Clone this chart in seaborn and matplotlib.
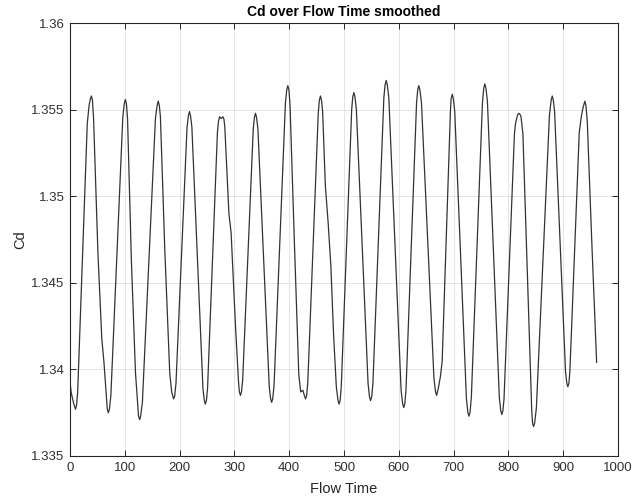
import matplotlib
matplotlib.use("Agg")
import matplotlib.pyplot as plt
from matplotlib.ticker import FuncFormatter
import seaborn as sns
import pandas as pd

# Flow time samples
flow_time = [
    0, 2, 4, 7, 10, 12,
    14, 22.75, 31.5, 35, 37, 39, 41,
    43, 51, 58, 62, 66.5, 68, 70, 72,
    74.6, 85.5, 96.4, 99, 101, 103,
    105, 112, 119.5, 123.5, 125, 127, 129,
    132.1, 144, 155.9, 159, 161, 163,
    165, 173, 182, 185.5, 189, 191,
    193.4, 203.5, 213.6, 216, 218, 220,
    222.4, 232.5, 242.6, 245, 247, 249,
    251, 260, 269, 271, 273, 276, 279, 281,
    282.5, 290, 294, 302, 307.5, 309, 311, 313,
    315.1, 324.75, 334.4, 336.5, 338.5, 340.5,
    342.9, 353.25, 363.6, 366, 368, 370,
    372.4, 382.75, 393.1, 395.5, 397.5, 399.5,
    401.5, 409.25, 417.5, 421, 425, 428, 430, 432,
    434, 443.5, 453, 455, 457, 459,
    461, 466, 471, 476, 481, 486, 489, 491, 493,
    495, 504.5, 514, 516, 518, 520,
    522.6, 533.25, 543.9, 546.5, 548.5, 550.5,
    552.8, 562.75, 572.7, 575, 577, 579,
    581.8, 593, 604.2, 607, 609, 611,
    613.1, 622.75, 632.4, 634.5, 636.5, 638.5,
    641.4, 652.75, 664.1, 667, 669,
    672, 676, 679.2, 686.75, 694.3, 695.5, 697.5, 699.5,
    702.1, 712.75, 723.4, 726, 728, 730,
    732.4, 742.5, 752.6, 755, 757, 759,
    761.7, 772.5, 783.4, 786, 788, 790,
    792, 801.5, 811, 813, 815, 817, 819, 821, 823,
    826.5, 834.5, 842.5, 844, 846, 848,
    851.1, 863, 874.9, 878, 880, 882,
    884.3, 894.25, 904.2, 906.5, 908.5, 910.5,
    912.2, 920.75, 929.3, 933, 936, 939.5, 941.5,
    944, 952, 961,
]

# Smoothed drag coefficient at those times
cd_smoothed = [
    1.3393, 1.3387, 1.3384, 1.3380, 1.3377, 1.33795,
    1.3387, 1.34645, 1.3542, 1.3553, 1.35560, 1.3558, 1.35555,
    1.3545, 1.3467, 1.3418, 1.3404, 1.3384, 1.33772, 1.3375, 1.33772,
    1.3385, 1.34655, 1.3546, 1.35535, 1.3556, 1.35535,
    1.3545, 1.3463, 1.3398, 1.3380, 1.33732, 1.3371, 1.33732,
    1.3381, 1.3463, 1.3545, 1.35525, 1.3555, 1.35525,
    1.3546, 1.3469, 1.3398, 1.3387, 1.3383, 1.33845,
    1.3392, 1.3466, 1.3540, 1.35465, 1.3549, 1.35465,
    1.3540, 1.34645, 1.3389, 1.33822, 1.3380, 1.33822,
    1.3389, 1.3463, 1.3537, 1.35435, 1.3546, 1.3545, 1.3546, 1.35445,
    1.3540, 1.3490, 1.3479, 1.3425, 1.3393, 1.33872, 1.3385, 1.33872,
    1.3394, 1.34665, 1.3539, 1.35455, 1.3548, 1.35455,
    1.3539, 1.34645, 1.3390, 1.33832, 1.3381, 1.33832,
    1.3391, 1.34725, 1.3554, 1.35615, 1.3564, 1.35615,
    1.3553, 1.34755, 1.3397, 1.3387, 1.3388, 1.33845, 1.3383, 1.33852,
    1.3393, 1.34705, 1.3548, 1.35555, 1.3558, 1.35555,
    1.3549, 1.3506, 1.3485, 1.3460, 1.3420, 1.3390, 1.33822, 1.3380, 1.33822,
    1.3390, 1.3470, 1.3550, 1.35575, 1.3560, 1.35575,
    1.3550, 1.3471, 1.3392, 1.33842, 1.3382, 1.33842,
    1.3392, 1.34745, 1.3557, 1.35645, 1.3567, 1.35645,
    1.3557, 1.34725, 1.3388, 1.33802, 1.3378, 1.33802,
    1.3388, 1.3471, 1.3554, 1.35615, 1.3564, 1.35615,
    1.3554, 1.34745, 1.3395, 1.33872, 1.3385,
    1.3389, 1.3396, 1.3405, 1.34775, 1.3550, 1.35565, 1.3559, 1.35565,
    1.3549, 1.3466, 1.3383, 1.33752, 1.3373, 1.33752,
    1.3384, 1.3469, 1.3554, 1.35625, 1.3565, 1.35625,
    1.3555, 1.34695, 1.3384, 1.33762, 1.3374, 1.33762,
    1.3383, 1.34595, 1.3536, 1.3542, 1.3545, 1.35472, 1.3548, 1.35475, 1.3546,
    1.3536, 1.34565, 1.3377, 1.33692, 1.3367, 1.33692,
    1.3378, 1.34625, 1.3547, 1.35555, 1.3558, 1.35555,
    1.3549, 1.3474, 1.3399, 1.33922, 1.3390, 1.33922,
    1.3399, 1.3468, 1.3537, 1.3546, 1.3551, 1.3555, 1.35525,
    1.3543, 1.3475, 1.3404,
]

x_ticks = [0, 100, 200, 300, 400, 500, 600, 700, 800, 900, 1000]
y_ticks = [1.335, 1.34, 1.345, 1.35, 1.355, 1.36]

title_text = "Cd over Flow Time smoothed"
x_label = "Flow Time"
y_label = "Cd"

df = pd.DataFrame({"Flow Time": flow_time, "Cd": cd_smoothed})

sns.set_theme(style="white")
plt.rcParams["font.family"] = ["Liberation Sans", "DejaVu Sans"]

fig = plt.figure(figsize=(6.32, 4.97), dpi=100)
ax = fig.add_axes([70 / 632, 1 - 456 / 497, 548 / 632, (456 - 23.3) / 497])

sns.lineplot(data=df, x="Flow Time", y="Cd", ax=ax, color="#333333",
             linewidth=0.9, sort=False, estimator=None)

ax.set_xlim(0, 1000)
ax.set_ylim(1.335, 1.36)
ax.set_xticks(x_ticks)
ax.set_yticks(y_ticks)
ax.yaxis.set_major_formatter(FuncFormatter(lambda v, p: f"{v:g}"))
ax.xaxis.set_major_formatter(FuncFormatter(lambda v, p: f"{v:g}"))

ax.grid(True, color="#e0e0e0", linewidth=0.6)
ax.set_axisbelow(True)
for s in ax.spines.values():
    s.set_color("#262626")
    s.set_linewidth(0.8)
    s.set_visible(True)

ax.tick_params(axis="both", which="major", direction="in", length=4,
               width=0.7, color="#262626", labelsize=9.5, labelcolor="#303030",
               top=True, right=True, bottom=True, left=True, pad=4)

ax.set_title(title_text, fontsize=10, fontweight="bold", color="black", pad=5)
ax.set_xlabel(x_label, fontsize=10.5, color="#262626", labelpad=6)
ax.set_ylabel(y_label, fontsize=10.5, color="#262626", labelpad=3)

fig.savefig("out.png", dpi=100, facecolor="white")
